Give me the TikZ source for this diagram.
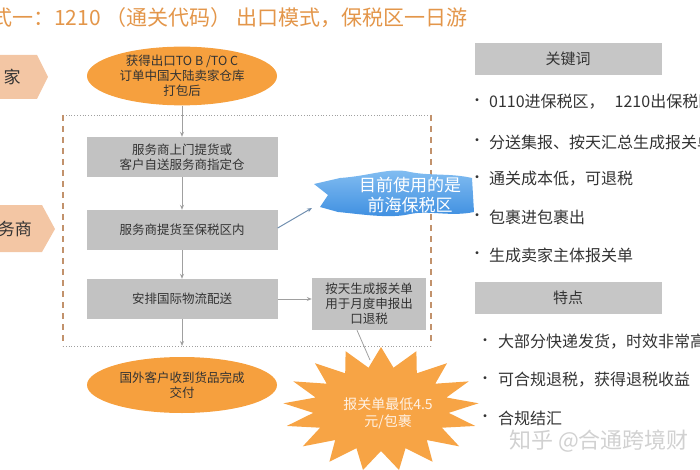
\documentclass[tikz,border=0pt]{standalone}
\usepackage{fontspec}
\setmainfont{Noto Sans CJK SC}
\usetikzlibrary{arrows.meta,shapes.geometric}
\definecolor{titleorange}{HTML}{E3964A}
\definecolor{ovalorange}{HTML}{F6A03E}
\definecolor{starorange}{HTML}{F7A445}
\definecolor{peach}{HTML}{F3C6A4}
\definecolor{boxgray}{HTML}{C2C2C2}
\definecolor{headgray}{HTML}{C6C6C6}
\definecolor{textdark}{HTML}{333333}
\definecolor{linegray}{HTML}{A0A0A0}
\definecolor{framebrown}{HTML}{C2926C}
\definecolor{arrowblue}{HTML}{7290B0}
\definecolor{cloudtop}{HTML}{86C0F2}
\definecolor{cloudbot}{HTML}{3C8DE0}
\newcommand{\fs}[2]{\fontsize{#1}{#2}\selectfont}
\tikzset{
  oval/.style={ellipse, fill=ovalorange, minimum width=190pt, minimum height=58pt, align=center, text=textdark, font=\fs{12.5}{15}, inner sep=0pt},
  stepbox/.style={rectangle, fill=boxgray, minimum width=191pt, minimum height=40pt, align=center, text=textdark, font=\fs{12.5}{15}, inner sep=0pt},
  headbox/.style={rectangle, fill=headgray, minimum width=187pt, minimum height=32pt, text=textdark, font=\fs{15}{18}},
  flow/.style={draw=linegray, line width=1pt, -{Stealth[length=5pt,width=4pt]}},
  bullet/.style={text=textdark, font=\fs{14}{17}},
  item/.style={anchor=west, text=textdark, font=\fs{16}{19}}
}
\begin{document}
\begin{tikzpicture}[x=1pt, y=-1pt, inner sep=1pt]
  \useasboundingbox (0,0) rectangle (700,470);
  \clip (0,0) rectangle (700,470);
  % title
  \node[anchor=west, text=titleorange, font=\fs{21}{25}] (title) at (-10,18) {式一：1210 （通关代码） 出口模式，保税区一日游};
  % roles on the left
  \fill[peach] (-5,55) -- (37,55) -- (48,77) -- (37,99) -- (-5,99) -- cycle;
  \node[text=textdark, font=\fs{17}{20}] (seller) at (12,77) {家};
  \fill[peach] (-5,205) -- (42,205) -- (55,229) -- (42,252) -- (-5,252) -- cycle;
  \node[text=textdark, font=\fs{17}{20}] (agent) at (15,229) {务商};
  % frame
  \coordinate (fNW) at (63,115);
  \coordinate (fNE) at (431,115);
  \coordinate (fSW) at (63,346);
  \coordinate (fSE) at (431,346);
  \draw[linegray, dotted, line width=0.8pt] (fNW) -- (fNE);
  \draw[linegray, dotted, line width=0.8pt] (fSW) -- (fSE);
  \draw[framebrown, dashed, line width=1.6pt, dash pattern=on 6pt off 5pt] (fNW) -- (fSW);
  \draw[framebrown, dashed, line width=1.6pt, dash pattern=on 6pt off 5pt] (fNE) -- (fSE);
  % flow
  \node[oval] (pack) at (182,76) {获得出口TO B /TO C\\订单中国大陆卖家仓库\\打包后};
  \node[stepbox] (pick) at (182,157) {服务商上门提货或\\客户自送服务商指定仓};
  \node[stepbox] (bond) at (182,230) {服务商提货至保税区内};
  \node[stepbox] (ship) at (182,299) {安排国际物流配送};
  \coordinate (exit) at (182,346);
  \node[oval, minimum height=56pt] (recv) at (182,385) {国外客户收到货品完成\\交付};
  \node[stepbox, minimum width=114pt, minimum height=52pt] (decl) at (369,304) {按天生成报关单\\用于月度申报出\\口退税};
  \draw[flow] (pack) -- (pick);
  \draw[flow] (pick) -- (bond);
  \draw[flow] (bond) -- (ship);
  \draw[flow] (ship) -- (exit);
  \draw[flow] (ship.east) -- (ship.east -| decl.west);
  % cloud
  \shade[top color=cloudtop, bottom color=cloudbot]
    (314,184) -- (340,178) .. controls (370,176) and (390,167) .. (410,172)
    .. controls (430,176) and (450,173) .. (472,178) -- (474,212)
    .. controls (450,217) and (430,210) .. (410,214)
    .. controls (390,219) and (360,214) .. (338,212) -- (320,207) -- (328,195) -- cycle;
  \node[text=white, align=center, font=\fs{17}{20}] (zone) at (410,195) {目前使用的是\\前海保税区};
  \coordinate (zonetip) at (312,208);
  \draw[arrowblue, line width=1pt, -{Stealth[length=5pt,width=4pt]}] (bond.east) ++(0,-2) -- (zonetip);
  % star
  \fill[starorange] plot[samples at={0,...,33}, variable=\k]
    ({381+(mod(\k,2)==0 ? 98 : 68)*cos(\k*360/34-90)}, {409+(mod(\k,2)==0 ? 62 : 42)*sin(\k*360/34-90)}) -- cycle;
  \node[align=center, text=white!90!orange, font=\fs{14}{17}] (cost) at (388,413) {报关单最低4.5\\元/包裹};
  \coordinate (costtop) at (370,360);
  \draw[linegray, line width=0.8pt] (decl.south) ++(-12,0) -- (costtop);
  % key words
  \node[headbox] (kw) at (568,59) {关键词};
  \node[bullet] (b1) at (477,102) {•};
  \node[item] (kw1) at (488,102) {0110进保税区，\hspace{10pt}1210出保税区};
  \node[bullet] (b2) at (477,142) {•};
  \node[item] (kw2) at (488,142) {分送集报、按天汇总生成报关单};
  \node[bullet] (b3) at (477,179) {•};
  \node[item] (kw3) at (488,179) {通关成本低，可退税};
  \node[bullet] (b4) at (477,217) {•};
  \node[item] (kw4) at (488,217) {包裹进包裹出};
  \node[bullet] (b5) at (477,255) {•};
  \node[item] (kw5) at (488,255) {生成卖家主体报关单};
  % features
  \node[headbox] (ft) at (568,298) {特点};
  \node[bullet] (c1) at (485,342) {•};
  \node[item] (ft1) at (497,342) {大部分快递发货，时效非常高；};
  \node[bullet] (c2) at (485,380) {•};
  \node[item] (ft2) at (497,380) {可合规退税，获得退税收益};
  \node[bullet] (c3) at (485,418) {•};
  \node[item] (ft3) at (497,418) {合规结汇};
  \node[anchor=west, text=black!18, font=\fs{22}{26}] (mark) at (508,441) {知乎 @合通跨境财};
\end{tikzpicture}
\end{document}
